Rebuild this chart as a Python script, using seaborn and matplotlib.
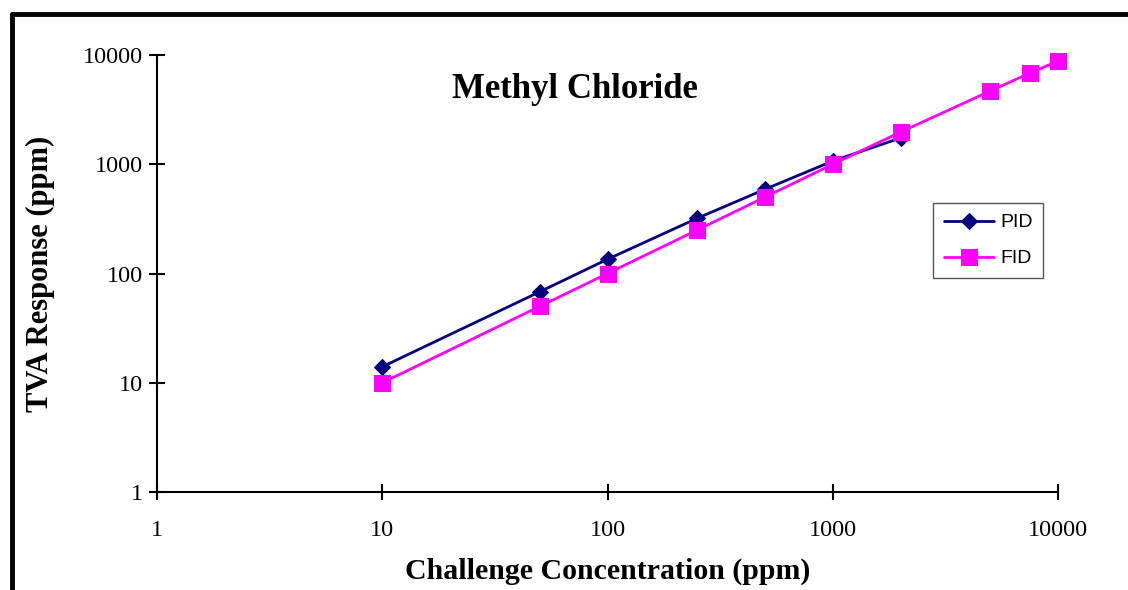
import numpy as np
import pandas as pd
import matplotlib
matplotlib.use('Agg')
import matplotlib.pyplot as plt
from matplotlib.lines import Line2D
import seaborn as sns

# data
pid_conc = [10, 50, 100, 250, 500, 1000, 2000]
pid_resp = [14, 68, 135, 320, 590, 1070, 1740]
fid_conc = [10, 50, 100, 250, 500, 1000, 2000, 5000, 7500, 10000]
fid_resp = [10, 50, 100, 250, 500, 1000, 1970, 4680, 6840, 8800]
tick_vals = [1, 10, 100, 1000, 10000]

sns.set_style('ticks')
plt.rcParams['font.family'] = ['Liberation Serif', 'DejaVu Serif']
plt.rcParams['text.color'] = 'black'
plt.rcParams['axes.labelcolor'] = 'black'

df_pid = pd.DataFrame({'conc': pid_conc, 'resp': pid_resp})
df_fid = pd.DataFrame({'conc': fid_conc, 'resp': fid_resp})

fig = plt.figure(figsize=(11.28, 5.9), dpi=100)
ax = fig.add_axes([157 / 1128, 1 - 492 / 590, (1058 - 157) / 1128, (492 - 55) / 590])

sns.lineplot(data=df_pid, x='conc', y='resp', ax=ax, color='#000080', lw=2,
             marker='D', markersize=8.5, markeredgecolor='#000080', label='PID',
             clip_on=False, zorder=3)
sns.lineplot(data=df_fid, x='conc', y='resp', ax=ax, color='#FF00FF', lw=2,
             marker='s', markersize=11, markeredgecolor='#FF00FF', label='FID',
             clip_on=False, zorder=4)

ax.set_xscale('log')
ax.set_yscale('log')
ax.set_xlim(1, 10000)
ax.set_ylim(1, 10000)
ax.set_xticks(tick_vals)
ax.set_yticks(tick_vals)
ax.set_xticklabels([str(v) for v in tick_vals])
ax.set_yticklabels([str(v) for v in tick_vals])
ax.minorticks_off()
ax.tick_params(axis='both', direction='inout', length=12, width=1.5, labelsize=17.5,
               colors='black', labelcolor='black', pad=4)
ax.tick_params(axis='x', pad=14)
sns.despine(ax=ax)
for s in ['left', 'bottom']:
    ax.spines[s].set_linewidth(1.5)
    ax.spines[s].set_color('black')

ax.set_xlabel('Challenge Concentration (ppm)', fontsize=21.5, fontweight='bold', labelpad=12)
ax.set_ylabel('TVA Response (ppm)', fontsize=22, fontweight='bold', labelpad=20)

fig.text(575 / 1128, 1 - 90 / 590, 'Methyl Chloride', fontsize=25, fontweight='bold',
         ha='center', va='center')

leg = ax.legend(loc='upper left', bbox_to_anchor=(933 / 1128, 1 - 203 / 590),
                bbox_transform=fig.transFigure, fancybox=False, framealpha=1,
                edgecolor='#555555', prop={'family': 'Liberation Sans', 'size': 14},
                handlelength=2.6, handletextpad=0.3, borderpad=0.55, labelspacing=0.95,
                borderaxespad=0)
leg.get_frame().set_linewidth(1)

# outer frame (top and left visible)
fig.add_artist(Line2D([12 / 1128, 1.0], [1 - 14 / 590, 1 - 14 / 590], color='black',
                      lw=3.5, transform=fig.transFigure))
fig.add_artist(Line2D([12 / 1128, 12 / 1128], [0, 1 - 14 / 590], color='black',
                      lw=3.5, transform=fig.transFigure))

fig.savefig('out.png', dpi=100)
